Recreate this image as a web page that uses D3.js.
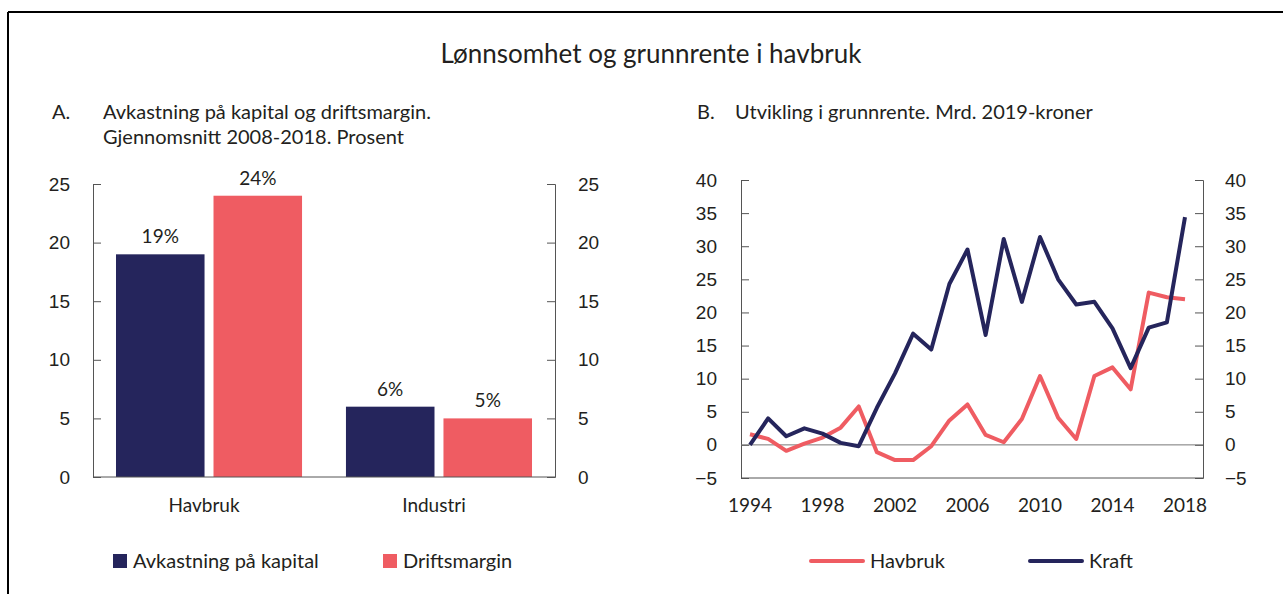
<!DOCTYPE html>
<html>
<head>
<meta charset="utf-8">
<script src="https://cdn.jsdelivr.net/npm/d3@7"></script>
<style>
  body { margin: 0; background: #fff; }
  svg { font-family: Lato, "Open Sans", sans-serif; fill: #231f20; }
  .tick text { font-size: 19px; fill: #231f20; }
</style>
</head>
<body>
<svg id="chart" width="1283" height="594"></svg>
<script>
// panel A data
const categories = ["Havbruk", "Industri"]
const barSeries = ["Avkastning på kapital", "Driftsmargin"]
const avkastning = [19, 6]
const driftsmargin = [24, 5]
const barTicks = [0, 5, 10, 15, 20, 25]

// panel B data
const years = d3.range(1994, 2019)
const havbruk = [1.6, 0.9, -0.9, 0.2, 1.1, 2.6, 5.8, -1.1, -2.3, -2.3, -0.2, 3.7, 6.1,
                 1.5, 0.4, 3.9, 10.4, 4.1, 0.9, 10.4, 11.7, 8.4, 23.0, 22.3, 22.0]
const kraft = [0, 4.0, 1.3, 2.5, 1.7, 0.3, -0.2, 5.6, 10.8, 16.8, 14.4, 24.3, 29.5,
               16.6, 31.1, 21.6, 31.4, 25.0, 21.2, 21.6, 17.6, 11.6, 17.7, 18.5, 34.4]
const lineTicks = [-5, 0, 5, 10, 15, 20, 25, 30, 35, 40]
const yearTicks = [1994, 1998, 2002, 2006, 2010, 2014, 2018]

const navy = "#25255c"
const red = "#ef5c62"
const axisCol = "#555"

const svg = d3.select("#chart")

// frame
svg.append("line").attr("x1", 8).attr("x2", 1283).attr("y1", 12).attr("y2", 12)
    .attr("stroke", "#000").attr("stroke-width", 2)
svg.append("line").attr("x1", 8).attr("x2", 8).attr("y1", 12).attr("y2", 594)
    .attr("stroke", "#000").attr("stroke-width", 2)

svg.append("text").attr("x", 651).attr("y", 63).attr("text-anchor", "middle")
    .style("font-size", "26px").text("Lønnsomhet og grunnrente i havbruk")

function heading(x, lines, letter) {
    svg.append("text").attr("x", x).attr("y", 119).style("font-size", "20px").text(letter)
    lines.forEach((t, i) => {
        svg.append("text").attr("x", x + (letter == "A." ? 51 : 38)).attr("y", 119 + i * 25)
            .style("font-size", "20px").text(t)
    })
}
heading(52, ["Avkastning på kapital og driftsmargin.", "Gjennomsnitt 2008-2018. Prosent"], "A.")
heading(697, ["Utvikling i grunnrente. Mrd. 2019-kroner"], "B.")

function styleAxis(g) {
    g.select(".domain").attr("stroke", axisCol)
    g.selectAll(".tick line").attr("stroke", axisCol)
}

// ---- panel A: bars
const ax = d3.scaleBand().domain(categories).range([93, 555]).paddingInner(0.191).paddingOuter(0.1)
const ay = d3.scaleLinear().domain([0, 25]).range([477, 184])
const inner = d3.scaleBand().domain(barSeries).range([0, ax.bandwidth()]).paddingInner(0.092).paddingOuter(0)

svg.append("g").attr("transform", "translate(93,0)")
    .call(d3.axisLeft(ay).tickValues(barTicks).tickSize(-8).tickPadding(23))
    .call(styleAxis)
svg.append("g").attr("transform", "translate(555,0)")
    .call(d3.axisRight(ay).tickValues(barTicks).tickSize(-8).tickPadding(23))
    .call(styleAxis)

const barData = []
categories.forEach((c, i) => {
    barData.push({cat: c, s: barSeries[0], v: avkastning[i], col: navy})
    barData.push({cat: c, s: barSeries[1], v: driftsmargin[i], col: red})
})
svg.append("g").selectAll("rect").data(barData).join("rect")
    .attr("x", d => ax(d.cat) + inner(d.s))
    .attr("width", inner.bandwidth())
    .attr("y", d => ay(d.v))
    .attr("height", d => ay(0) - ay(d.v))
    .attr("fill", d => d.col)
svg.append("g").selectAll("text").data(barData).join("text")
    .attr("x", d => ax(d.cat) + inner(d.s) + inner.bandwidth() / 2)
    .attr("y", d => ay(d.v) - 11)
    .attr("text-anchor", "middle").style("font-size", "19px")
    .text(d => d.v + "%")
svg.append("line").attr("x1", 93).attr("x2", 555).attr("y1", ay(0)).attr("y2", ay(0))
    .attr("stroke", axisCol)
// category labels sit a little left of the group centre
svg.append("g").selectAll("text").data(categories).join("text")
    .attr("x", d => ax(d) + ax.bandwidth() / 2 - 5).attr("y", 512)
    .attr("text-anchor", "middle").style("font-size", "19px").text(d => d)

// legend A
const legA = [{t: barSeries[0], c: navy, x: 113}, {t: barSeries[1], c: red, x: 383}]
legA.forEach(l => {
    svg.append("rect").attr("x", l.x).attr("y", 554).attr("width", 14).attr("height", 14).attr("fill", l.c)
    svg.append("text").attr("x", l.x + 20).attr("y", 568).style("font-size", "20px").text(l.t)
})

// ---- panel B: lines
const bx = d3.scaleLinear().domain([1994, 2018]).range([750, 1185])
const by = d3.scaleLinear().domain([-5, 40]).range([478, 180])

svg.append("g").attr("transform", "translate(741,0)")
    .call(d3.axisLeft(by).tickValues(lineTicks).tickSize(-8).tickPadding(24))
    .call(styleAxis)
svg.append("g").attr("transform", "translate(1203,0)")
    .call(d3.axisRight(by).tickValues(lineTicks).tickSize(-8).tickPadding(22))
    .call(styleAxis)
svg.append("line").attr("x1", 741).attr("x2", 1203).attr("y1", by(-5)).attr("y2", by(-5))
    .attr("stroke", axisCol)
svg.append("line").attr("x1", 741).attr("x2", 1203).attr("y1", by(0)).attr("y2", by(0))
    .attr("stroke", "#777")
svg.append("g").selectAll("text").data(yearTicks).join("text")
    .attr("x", d => bx(d)).attr("y", 512).attr("text-anchor", "middle")
    .style("font-size", "19px").text(d => d)

const line = d3.line().x((d, i) => bx(years[i])).y(d => by(d))
svg.append("path").attr("d", line(havbruk)).attr("fill", "none")
    .attr("stroke", red).attr("stroke-width", 4).attr("stroke-linejoin", "round")
svg.append("path").attr("d", line(kraft)).attr("fill", "none")
    .attr("stroke", navy).attr("stroke-width", 4).attr("stroke-linejoin", "round")

// legend B
const legB = [{t: "Havbruk", c: red, x: 811}, {t: "Kraft", c: navy, x: 1030}]
legB.forEach(l => {
    svg.append("line").attr("x1", l.x).attr("x2", l.x + 52).attr("y1", 561).attr("y2", 561)
        .attr("stroke", l.c).attr("stroke-width", 4).attr("stroke-linecap", "round")
    svg.append("text").attr("x", l.x + 59).attr("y", 568).style("font-size", "20px").text(l.t)
})
</script>
</body>
</html>
